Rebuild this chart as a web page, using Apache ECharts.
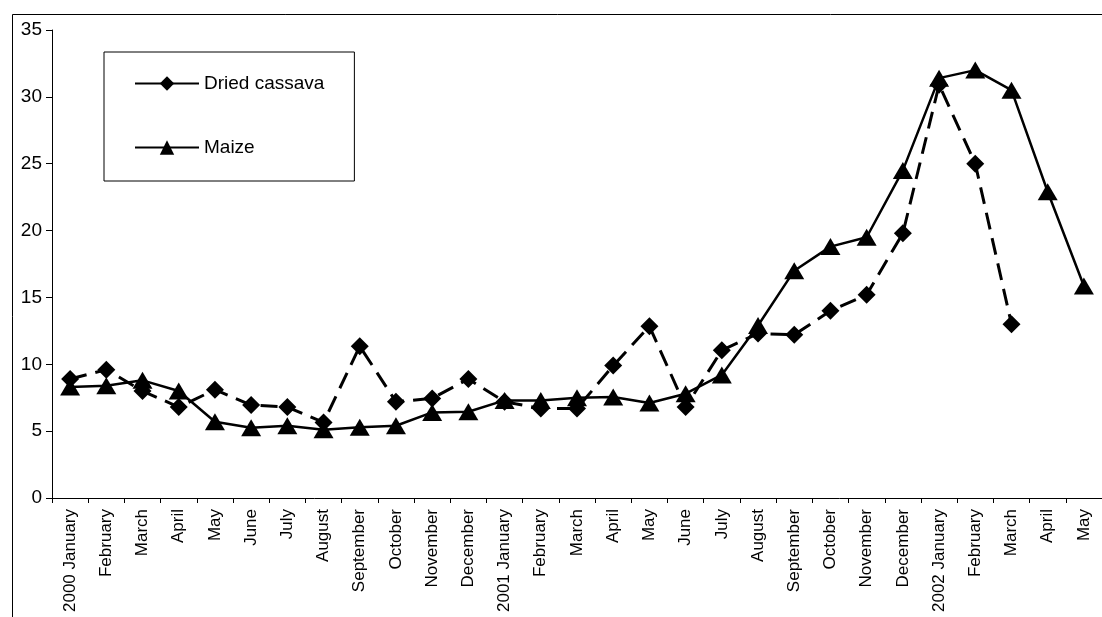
<!DOCTYPE html>
<html>
<head>
<meta charset="utf-8">
<script src="https://cdn.jsdelivr.net/npm/echarts@6/dist/echarts.min.js"></script>
<style>
html,body{margin:0;padding:0;background:#fff;}
#chart{width:1102px;height:617px;}
</style>
</head>
<body>
<div id="chart"></div>
<script>
var categories = ['2000 January','February','March','April','May','June','July','August','September','October','November','December',
  '2001 January','February','March','April','May','June','July','August','September','October','November','December',
  '2002 January','February','March','April','May'];
var driedCassava = [8.9, 9.6, 8.0, 6.8, 8.1, 6.95, 6.8, 5.65, 11.35, 7.2, 7.45, 8.9,
  7.2, 6.7, 6.7, 9.9, 12.85, 6.8, 11.05, 12.3, 12.2, 14.0, 15.2, 19.8,
  30.9, 25.0, 13.0, null, null];
var maize = [8.3, 8.4, 8.8, 8.0, 5.7, 5.25, 5.4, 5.1, 5.3, 5.4, 6.4, 6.45,
  7.3, 7.3, 7.5, 7.55, 7.1, 7.8, 9.2, 12.9, 17.0, 18.8, 19.5, 24.5,
  31.4, 32.0, 30.5, 22.9, 15.85];
var yTicks = {min: 0, max: 35, interval: 5};
var seriesNames = ['Dried cassava', 'Maize'];

var font = '"Liberation Sans", Arial, sans-serif';
var chart = echarts.init(document.getElementById('chart'), null, {renderer: 'canvas'});
chart.setOption({
  animation: false,
  backgroundColor: '#fff',
  graphic: [{
    type: 'rect', left: 10, top: 12, z: -1,
    shape: {x: 0, y: 0, width: 1200, height: 700},
    style: {fill: 'none', stroke: '#000', lineWidth: 1}
  }],
  legend: {
    orient: 'vertical',
    left: 104, top: 52,
    padding: [22, 30, 24, 30],
    itemGap: 45,
    itemWidth: 64, itemHeight: 18,
    backgroundColor: '#fff',
    borderColor: '#000', borderWidth: 1,
    textStyle: {fontFamily: font, fontSize: 19, lineHeight: 18, color: '#000'},
    data: [
      {name: seriesNames[0], lineStyle: {type: 'solid'}},
      {name: seriesNames[1]}
    ]
  },
  grid: {left: 52, top: 30, width: 1057, height: 468, containLabel: false},
  xAxis: {
    type: 'category',
    data: categories,
    boundaryGap: true,
    axisLine: {lineStyle: {color: '#000', width: 1}},
    axisTick: {show: true, length: 5, alignWithLabel: false, interval: 0, lineStyle: {color: '#000'}},
    axisLabel: {interval: 0, rotate: 90, margin: 11, fontFamily: font, fontSize: 17, color: '#000'},
    splitLine: {show: false}
  },
  yAxis: {
    type: 'value',
    min: yTicks.min, max: yTicks.max, interval: yTicks.interval,
    axisLine: {show: true, lineStyle: {color: '#000', width: 1}},
    axisTick: {show: true, length: 6, lineStyle: {color: '#000'}},
    axisLabel: {margin: 10, fontFamily: font, fontSize: 19, color: '#000'},
    splitLine: {show: false}
  },
  series: [{
    name: seriesNames[0],
    type: 'line',
    data: driedCassava,
    symbol: 'diamond',
    symbolSize: 18,
    itemStyle: {color: '#000'},
    lineStyle: {color: '#000', width: 3, type: [17, 9]},
    connectNulls: false
  }, {
    name: seriesNames[1],
    type: 'line',
    data: maize,
    symbol: 'triangle',
    symbolSize: [20, 17],
    itemStyle: {color: '#000'},
    lineStyle: {color: '#000', width: 2.5, type: 'solid'}
  }]
});
</script>
</body>
</html>
